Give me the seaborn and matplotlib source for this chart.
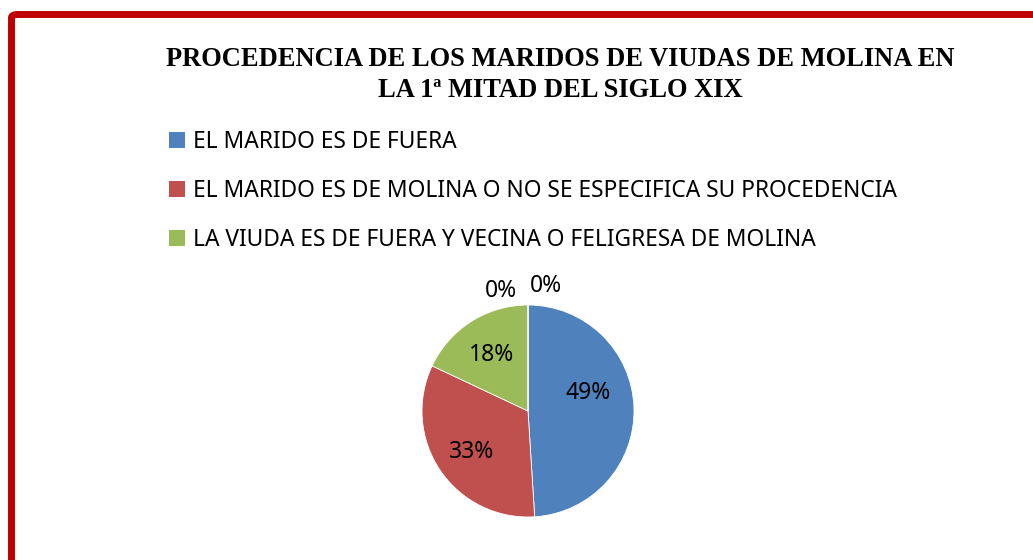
import numpy as np
import pandas as pd
import seaborn as sns
import matplotlib.pyplot as plt
from matplotlib.patches import FancyBboxPatch, Patch

# Datos del grafico (porcentajes)
categorias = ['EL MARIDO ES DE FUERA',
              'EL MARIDO ES DE MOLINA O NO SE ESPECIFICA SU PROCEDENCIA',
              'LA VIUDA ES DE FUERA Y VECINA O FELIGRESA DE MOLINA',
              'OTRO 1', 'OTRO 2']
porcentajes = [49, 33, 18, 0, 0]
colores = ['#4F81BD', '#C0504D', '#9BBB59', '#8064A2', '#4BACC6']
titulo = 'PROCEDENCIA DE LOS MARIDOS DE VIUDAS DE MOLINA EN\nLA 1ª MITAD DEL SIGLO XIX'

df = pd.DataFrame({'categoria': categorias, 'pct': porcentajes})

sns.set_theme(style='white')
plt.rcParams['font.family'] = ['Noto Sans', 'DejaVu Sans']
plt.rcParams['text.color'] = 'black'

W, H = 1033, 560
fig = plt.figure(figsize=(W / 100, H / 100), dpi=100)

# Marco rojo (solo se ven los lados izquierdo y superior)
marco = FancyBboxPatch((11.5 / W, -0.5), 1.5, 1.5 - 14.5 / H,
                       boxstyle='round,pad=0,rounding_size=0.006',
                       transform=fig.transFigure, fill=False,
                       edgecolor='#C00000', linewidth=5.0)
fig.patches.append(marco)

fig.text(560 / W, 1 - 75 / H, titulo, ha='center', va='center',
         family='Liberation Serif', fontweight='bold', fontsize=19.1,
         linespacing=1.3, color='black')

# Tarta
ax = fig.add_axes([422 / W, 43 / H, 212 / W, 212 / H])
wedges, textos, autotextos = ax.pie(df['pct'], colors=colores, startangle=90,
                                    counterclock=False, autopct='%1.0f%%',
                                    pctdistance=0.6,
                                    wedgeprops=dict(linewidth=0.6, edgecolor='white'),
                                    textprops=dict(fontsize=16.5, color='black'))
ax.set_xlim(-1, 1)
ax.set_ylim(-1, 1)
ax.set_aspect('equal')

# posiciones de las etiquetas al estilo de Excel
pos_etiquetas = [(0.57, 0.17), (-0.53, -0.39), (-0.34, 0.53), (-0.26, 1.13), (0.17, 1.18)]
for t, p in zip(autotextos, pos_etiquetas):
    t.set_position(p)
    t.set_ha('center')
    t.set_va('center')

handles = [Patch(facecolor=c, edgecolor='none') for c in colores[:3]]
fig.legend(handles, categorias[:3], loc='upper left',
           bbox_to_anchor=(169 / W, 1 - 130 / H), frameon=False,
           fontsize=16.4, handlelength=0.7, handleheight=0.7,
           handletextpad=0.35, labelspacing=1.1, borderpad=0,
           borderaxespad=0)

fig.savefig('out.png', dpi=100)
